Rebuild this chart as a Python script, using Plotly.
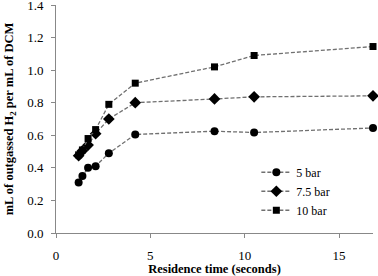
import plotly.graph_objects as go

residence_time = [1.2, 1.4, 1.7, 2.1, 2.8, 4.2, 8.4, 10.5, 16.8]
bar5 = [0.31, 0.35, 0.40, 0.41, 0.49, 0.605, 0.625, 0.617, 0.645]
bar75 = [0.475, 0.505, 0.54, 0.61, 0.70, 0.80, 0.823, 0.836, 0.842]
bar10 = [0.48, 0.51, 0.58, 0.635, 0.79, 0.92, 1.02, 1.09, 1.145]
series_names = ["5 bar", "7.5 bar", "10 bar"]
symbols = ["circle", "diamond", "square"]
sizes = [8, 9, 7]

fig = go.Figure()
for name, ys, sym, sz in zip(series_names, [bar5, bar75, bar10], symbols, sizes):
    fig.add_trace(go.Scatter(
        x=residence_time, y=ys, name=name, mode="lines+markers",
        line=dict(color="#707070", width=1.3, dash="4px,2px"),
        marker=dict(symbol=sym, size=sz, color="black"),
        cliponaxis=False,
    ))

font = "Liberation Serif"
fig.update_layout(
    width=378, height=276,
    margin=dict(l=56, r=5, t=5, b=43),
    paper_bgcolor="white", plot_bgcolor="white",
    font=dict(family=font, size=12, color="black"),
    showlegend=True,
    legend=dict(x=0.632, y=0.33, xanchor="left", yanchor="top",
                bgcolor="rgba(0,0,0,0)", font=dict(family=font, size=12),
                tracegroupgap=0, itemwidth=30),
    xaxis=dict(range=[0, 16.8], tickvals=[0, 5, 10, 15], showgrid=False,
               zeroline=False, showline=True, linecolor="#888888", linewidth=1,
               ticks="outside", ticklen=4, tickcolor="#888888", automargin=False,
               ticklabelstandoff=6,
               tickfont=dict(family=font, size=13),
               title=dict(text="<b>Residence time (seconds)</b>",
                          font=dict(family=font, size=12.5), standoff=2)),
    yaxis=dict(range=[0, 1.4], dtick=0.2, tickformat=".1f", showgrid=False,
               zeroline=False, showline=True, linecolor="#888888", linewidth=1,
               ticks="outside", ticklen=4, tickcolor="#888888", automargin=False,
               ticklabeloverflow="allow", ticklabelstandoff=5,
               tickfont=dict(family=font, size=13),
               title=dict(text="<b>mL of outgassed H<sub>2</sub> per mL of DCM</b>",
                          font=dict(family=font, size=12.5), standoff=10)),
)
fig.write_html("out.html", config={"displayModeBar": False},
               post_script="document.body.style.margin='0';")
